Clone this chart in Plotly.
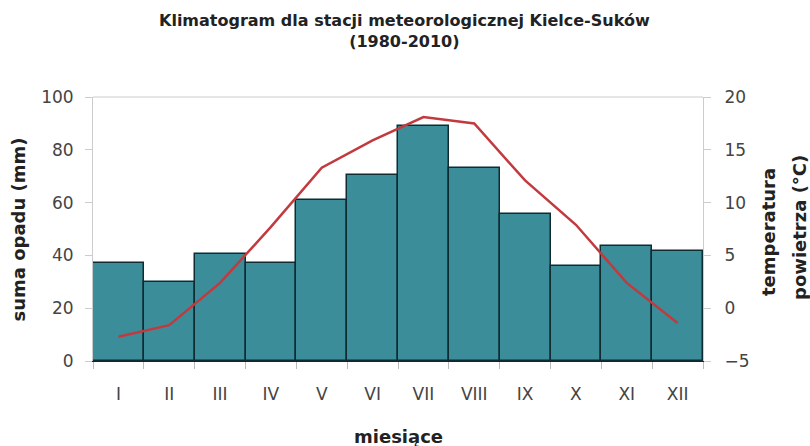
import plotly.graph_objects as go

months = ["I", "II", "III", "IV", "V", "VI", "VII", "VIII", "IX", "X", "XI", "XII"]
precip_mm = [37, 30, 40.5, 37, 61, 70.5, 89, 73, 55.5, 36, 43.5, 41.5]
temp_c = [-2.7, -1.6, 2.4, 7.7, 13.3, 15.9, 18.1, 17.5, 12.1, 7.9, 2.4, -1.4]

FONT = "DejaVu Sans, Liberation Sans, Arial, sans-serif"
W, H = 810, 446
L, R, T, B = 93, 107, 97, 85
PW, PH = W - L - R, H - T - B


def px_x(px):
    return (px - L) / PW


def px_y(py):
    return (H - B - py) / PH


fig = go.Figure()
fig.add_trace(go.Bar(
    x=months, y=precip_mm,
    marker=dict(color="#3b8d9a", line=dict(color="#0f2c33", width=1.5)),
    width=1, showlegend=False, hoverinfo="skip",
))
fig.add_trace(go.Scatter(
    x=months, y=temp_c, yaxis="y2", mode="lines",
    line=dict(color="#c23a3e", width=2.5), showlegend=False, hoverinfo="skip",
))

title_font = dict(family=FONT, size=18, color="#222222")
tick_font = dict(family=FONT, size=17, color="#444444")

fig.update_layout(
    width=W, height=H,
    margin=dict(l=L, r=R, t=T, b=B, autoexpand=False),
    paper_bgcolor="white", plot_bgcolor="white",
    font=dict(family=FONT, color="#333333"),
    bargap=0,
    xaxis=dict(
        type="category", tickson="boundaries", ticks="outside", ticklen=7,
        tickcolor="#bbbbbb", showline=True, linecolor="#222222", linewidth=1,
        tickfont=tick_font, showgrid=False, automargin=False,
        ticklabelstandoff=18, range=[-0.5, 11.5],
    ),
    yaxis=dict(
        range=[0, 100], tickvals=[0, 20, 40, 60, 80, 100], ticks="outside", ticklen=7,
        tickcolor="#cccccc", showline=True, linecolor="#cccccc", linewidth=1,
        showgrid=False, zeroline=False, automargin=False,
        tickfont=tick_font, ticklabelstandoff=8,
    ),
    yaxis2=dict(
        overlaying="y", side="right", range=[-5, 20], tickvals=[-5, 0, 5, 10, 15, 20],
        ticks="outside", ticklen=7, tickcolor="#cccccc", showline=True,
        linecolor="#cccccc", linewidth=1, showgrid=False, zeroline=False,
        automargin=False, tickfont=tick_font, ticklabelstandoff=10,
    ),
    shapes=[dict(type="line", xref="paper", yref="paper", x0=0, x1=1, y0=1, y1=1,
                 line=dict(color="#cccccc", width=1))],
    annotations=[
        dict(text="<b>Klimatogram dla stacji meteorologicznej Kielce-Suków<br>(1980-2010)</b>",
             xref="paper", yref="paper", x=px_x(404), y=px_y(31),
             xanchor="center", yanchor="middle", showarrow=False,
             font=dict(family=FONT, size=16, color="#222222")),
        dict(text="<b>suma opadu (mm)</b>", xref="paper", yref="paper",
             x=px_x(17.5), y=px_y(230), xanchor="center", yanchor="middle",
             textangle=-90, showarrow=False, font=title_font),
        dict(text="<b>temperatura</b>", xref="paper", yref="paper",
             x=px_x(768), y=px_y(232), xanchor="center", yanchor="middle",
             textangle=-90, showarrow=False, font=title_font),
        dict(text="<b>powietrza (°C)</b>", xref="paper", yref="paper",
             x=px_x(799), y=px_y(228), xanchor="center", yanchor="middle",
             textangle=-90, showarrow=False, font=title_font),
        dict(text="<b>miesiące</b>", xref="paper", yref="paper",
             x=0.5, y=px_y(436), xanchor="center", yanchor="middle",
             showarrow=False, font=title_font),
    ],
)

fig.write_html("out.html", config={"displayModeBar": False},
               post_script="document.body.style.margin='0';")
